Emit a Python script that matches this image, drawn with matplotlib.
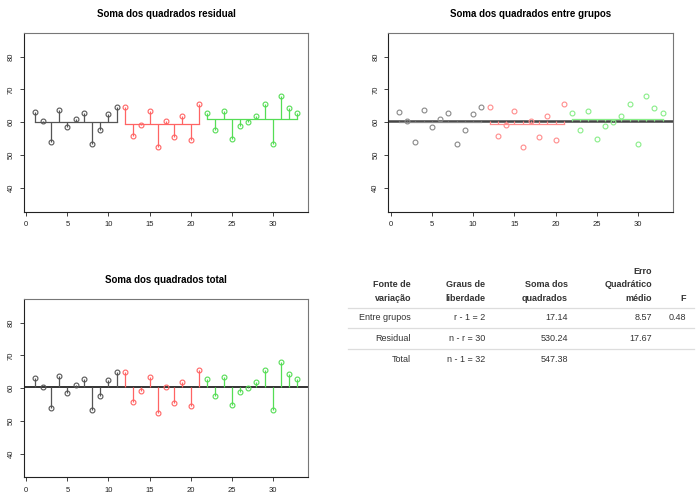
import matplotlib.pyplot as plt
import numpy as np

plt.rcParams['font.family'] = ['Liberation Sans', 'DejaVu Sans']

# observações por grupo
g1 = [63.15, 60.4, 54.0, 63.65, 58.5, 60.9, 62.7, 53.3, 57.7, 62.4, 64.8]
g2 = [64.8, 55.8, 59.2, 63.55, 52.4, 60.5, 55.4, 61.8, 54.5, 65.6]
g3 = [62.7, 57.7, 63.55, 54.9, 58.8, 60.0, 61.8, 65.5, 53.4, 68.0, 64.4, 62.8]
grupos = [g1, g2, g3]
cores = ['#555555', '#FF6464', '#55DD55']
cores_claras = ['#888888', '#FF8C8C', '#88EE88']

# tabela ANOVA
cabecalho = [['Fonte de', 'variação'], ['Graus de', 'liberdade'], ['Soma dos', 'quadrados'],
             ['Erro', 'Quadrático', 'médio'], ['F']]
linhas = [['Entre grupos', 'r - 1 = 2', '17.14', '8.57', '0.48'],
          ['Residual', 'n - r = 30', '530.24', '17.67', ''],
          ['Total', 'n - 1 = 32', '547.38', '', '']]

y_all = np.concatenate(grupos)
media = y_all.mean()
xs = []
ini = 1
for g in grupos:
    xs.append(np.arange(ini, ini + len(g)))
    ini += len(g)

W, H = 700, 504
fig = plt.figure(figsize=(7, 5.04), dpi=100)


def px(x, y):
    return x / W, 1 - y / H


def eixo(rect, titulo):
    ax = fig.add_axes(rect)
    ax.set_xlim(-0.28, 34.28)
    ax.set_ylim(32.8, 87.1)
    ax.set_xticks(np.arange(0, 31, 5))
    ax.set_yticks(np.arange(40, 81, 10))
    ax.tick_params(labelsize=5.5, length=3, width=0.6, colors='#222222')
    ax.tick_params(axis='x', pad=4)
    ax.tick_params(axis='y', pad=3.5)
    for lab in ax.get_yticklabels():
        lab.set_rotation(90)
        lab.set_va('center')
    for s in ['top', 'right']:
        ax.spines[s].set_color('#777777')
    for s in ['left', 'bottom']:
        ax.spines[s].set_color('#222222')
    for s in ax.spines.values():
        s.set_linewidth(0.8)
    ax.set_title(titulo, fontsize=7, fontweight='bold', pad=12)
    return ax


# soma dos quadrados residual
ax1 = eixo([0.0343, 0.58, 0.4057, 0.354], 'Soma dos quadrados residual')
for x, g, c in zip(xs, grupos, cores):
    m = np.mean(g)
    ax1.plot([x[0], x[-1]], [m, m], color=c, lw=0.9)
    ax1.vlines(x, m, g, color=c, lw=0.9)
    ax1.plot(x, g, 'o', mfc='none', mec=c, ms=3.5, mew=0.8)

# soma dos quadrados entre grupos
ax2 = eixo([0.5547, 0.58, 0.4071, 0.354], 'Soma dos quadrados entre grupos')
ax2.axhline(media, color='#444444', lw=1.8)
for x, g, cc in zip(xs, grupos, cores_claras):
    m = np.mean(g)
    ax2.plot([x[0], x[-1]], [m, m], color=cc, lw=0.9)
    ax2.vlines(x, m, media, color=cc, lw=0.9)
    ax2.plot(x, g, 'o', mfc='none', mec=cc, ms=3.5, mew=0.8)

# soma dos quadrados total
ax3 = eixo([0.0343, 0.053, 0.4057, 0.353], 'Soma dos quadrados total')
ax3.axhline(media, color='#111111', lw=1.2)
for x, g, c in zip(xs, grupos, cores):
    ax3.vlines(x, media, g, color=c, lw=0.9)
    ax3.plot(x, g, 'o', mfc='none', mec=c, ms=3.5, mew=0.8)

# tabela
col_x = [411, 485, 568, 652, 686]
txt = '#333333'
for cx, cab in zip(col_x, cabecalho):
    for k, t in enumerate(reversed(cab)):
        fig.text(*px(cx, 298.5 - 13.7 * k), t, ha='right', va='center',
                 fontsize=6.5, fontweight='bold', color=txt)
for ly in [307.7, 328.3, 349.3]:
    fig.add_artist(plt.Line2D([348 / W, 694 / W], [1 - ly / H] * 2,
                              color='#DDDDDD', lw=0.9))
for row_y, linha in zip([318, 338.5, 359.5], linhas):
    for cx, t in zip(col_x, linha):
        fig.text(*px(cx, row_y), t, ha='right', va='center', fontsize=6.5, color=txt)

fig.savefig('out.png', dpi=100)
